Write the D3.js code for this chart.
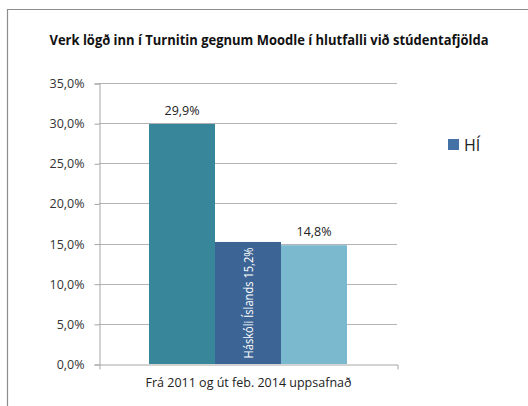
<!DOCTYPE html>
<html><head><meta charset="utf-8">
<script src="https://cdn.jsdelivr.net/npm/d3@7"></script>
<style>body{margin:0;background:#fff}svg{display:block}text{font-family:"Open Sans",sans-serif}</style>
</head><body>
<script>
const title = "Verk lögð inn í Turnitin gegnum Moodle í hlutfalli við stúdentafjölda";
const categories = ["Frá 2011 og út feb. 2014 uppsafnað"];
const series = ["s1", "HÍ", "s3"];
const values = [29.9, 15.2, 14.8];
const valueLabels = ["29,9%", "Háskóli Íslands 15,2%", "14,8%"];
const colors = ["#37869A", "#3C6596", "#7BB9CF"];
const yTicks = [0, 5, 10, 15, 20, 25, 30, 35];
const legendItems = ["HÍ"];

(function () {
const W = 528, H = 406;
const svg = d3.select("body").append("svg").attr("width", W).attr("height", H);

// frame
svg.append("path").attr("d", "M7.5,406 V9.5 H528").attr("fill", "none").attr("stroke", "#8c8c8c").attr("stroke-width", 1.2);

svg.append("text").attr("x", 269).attr("y", 45).attr("text-anchor", "middle")
  .attr("font-size", 14).attr("font-weight", "bold").attr("fill", "#111")
  .attr("textLength", 439).attr("lengthAdjust", "spacingAndGlyphs").text(title);

const pl = 99, pr = 397, pt = 83, pb = 364;
const y = d3.scaleLinear().domain([0, 35]).range([pb, pt]);
const x0 = d3.scaleBand().domain(categories).range([pl, pr]);
const bw = x0.bandwidth();
const x1 = d3.scaleBand().domain(series)
  .range([x0(categories[0]) + bw * 0.1678, x0(categories[0]) + bw * (1 - 0.1678)]);

const fmt = v => v.toFixed(1).replace(".", ",") + "%";

// gridlines
svg.append("g").selectAll("line").data(yTicks.filter(t => t > 0)).join("line")
  .attr("x1", pl).attr("x2", pr).attr("y1", d => Math.round(y(d)) + 0.5).attr("y2", d => Math.round(y(d)) + 0.5)
  .attr("stroke", "#b3b3b3").attr("stroke-width", 1);

// y axis
const yAxis = svg.append("g").attr("transform", `translate(${pl + 0.5},0.5)`)
  .call(d3.axisLeft(y).tickValues(yTicks).tickFormat(fmt).tickSize(5).tickPadding(10));
yAxis.select(".domain").attr("stroke", "#a6a6a6");
yAxis.selectAll(".tick line").attr("stroke", "#a6a6a6");
yAxis.selectAll(".tick text").attr("font-size", 12.5).attr("fill", "#333").attr("font-family", "Open Sans");

// bars
svg.append("g").selectAll("rect").data(values).join("rect")
  .attr("x", (d, i) => x1(series[i])).attr("width", x1.bandwidth())
  .attr("y", d => y(d)).attr("height", d => y(0) - y(d))
  .attr("fill", (d, i) => colors[i]);

// x axis
const xAxis = svg.append("g").attr("transform", `translate(0.5,${pb + 0.5})`)
  .call(d3.axisBottom(x0).tickSizeOuter(5).tickSizeInner(0).tickPadding(14));
xAxis.select(".domain").attr("stroke", "#a6a6a6");
xAxis.selectAll(".tick text").attr("font-size", 12.5).attr("fill", "#222").attr("font-family", "Open Sans")
  .attr("textLength", 206).attr("lengthAdjust", "spacingAndGlyphs");

// data labels
values.forEach((v, i) => {
  const cx = x1(series[i]) + x1.bandwidth() / 2;
  if (i === 1) {
    svg.append("text").attr("transform", `translate(${cx + 4.5},${(y(v) + y(0)) / 2}) rotate(-90)`)
      .attr("text-anchor", "middle").attr("font-size", 12).attr("fill", "#fff")
      .attr("textLength", 111).attr("lengthAdjust", "spacingAndGlyphs").text(valueLabels[i]);
  } else {
    svg.append("text").attr("x", cx).attr("y", y(v) - 9).attr("text-anchor", "middle")
      .attr("font-size", 12.5).attr("fill", "#222").text(valueLabels[i]);
  }
});

// legend
const lg = svg.append("g");
legendItems.forEach((name, i) => {
  lg.append("rect").attr("x", 448).attr("y", 139).attr("width", 11).attr("height", 11).attr("fill", "#4471A6");
  lg.append("text").attr("x", 464).attr("y", 151).attr("font-size", 16).attr("fill", "#222").text(name);
});
})();
</script>
</body></html>
